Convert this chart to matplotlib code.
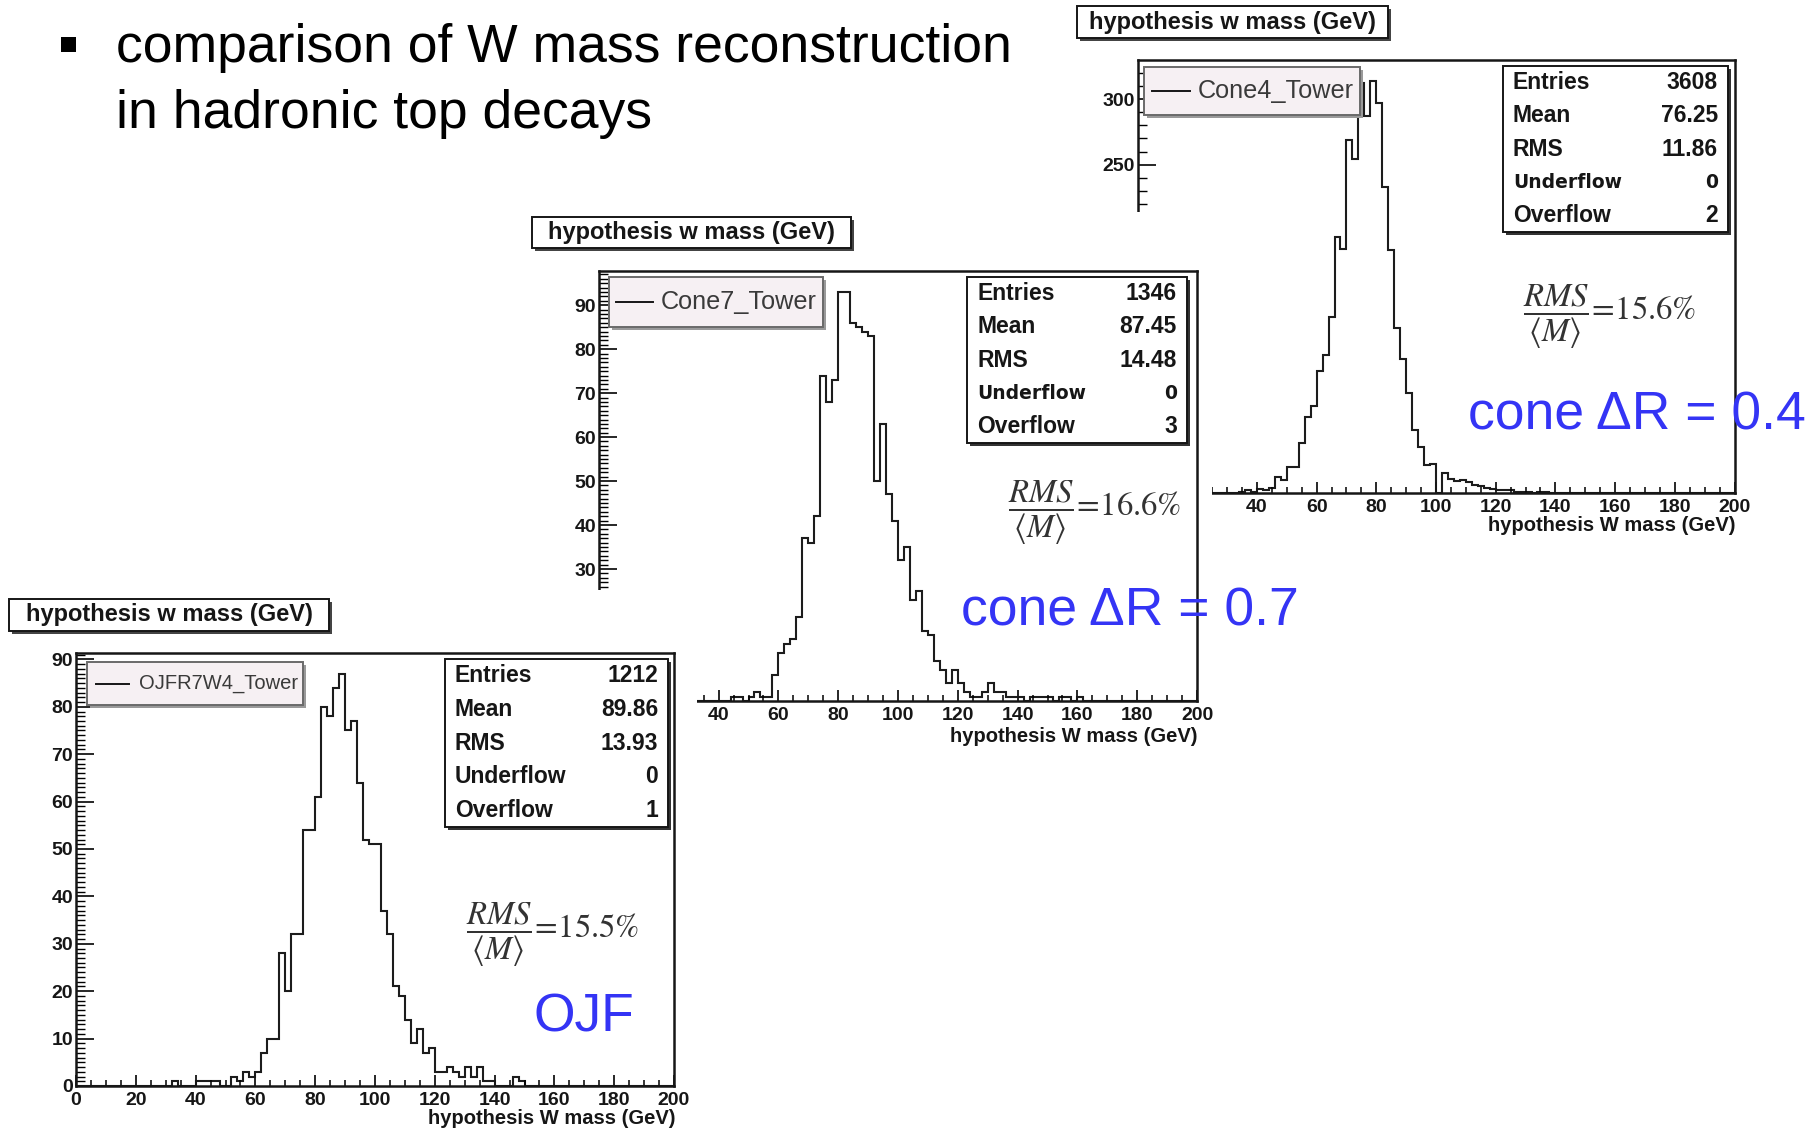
import numpy as np
import matplotlib.pyplot as plt
from matplotlib.patches import Rectangle
from matplotlib.lines import Line2D
from matplotlib.ticker import MultipleLocator

plt.rcParams['font.family'] = ['Liberation Sans', 'DejaVu Sans']
plt.rcParams['mathtext.fontset'] = 'stix'

W, H = 1812, 1130

# 2 GeV bins from 0 to 200 GeV
bin_edges = np.arange(0, 202, 2)
x_ticks = np.arange(0, 201, 20)

# counts, starting at the given bin low edge (GeV)
ojf_start = 30
ojf_counts = [0, 1, 0, 0, 0, 1, 1, 1, 1, 0, 0, 2, 1, 3, 2, 3, 7, 10, 10, 28,
              20, 32, 32, 54, 54, 61, 80, 78, 84, 87, 75, 77, 64, 52, 51, 51, 37, 32, 21, 19,
              14, 9, 12, 7, 8, 3, 3, 4, 3, 2, 4, 2, 4, 1, 1, 0, 0, 0, 2, 1]

cone7_start = 44
cone7_counts = [1, 1, 0, 1, 2, 1, 1, 6, 11, 13, 14, 19, 37, 36, 42, 74, 68, 73, 93, 93,
                86, 85, 84, 83, 50, 63, 47, 41, 32, 35, 23, 25, 16, 15, 9, 7, 4, 7, 4, 2,
                1, 1, 2, 4, 2, 2, 1, 1, 1, 0, 1, 1, 1, 1, 0, 1, 1, 0, 1]

cone4_start = 34
cone4_counts = [1, 2, 1, 3, 2, 4, 12, 10, 20, 20, 38, 58, 66, 93, 105, 134, 195, 186, 269, 254,
                312, 287, 314, 297, 233, 185, 126, 102, 76, 48, 35, 21, 22, 0, 15, 11, 9, 10, 8, 6,
                5, 4, 3, 2, 2, 2, 1, 1, 1, 0, 1, 1]

stat_names = ['Entries', 'Mean', 'RMS', 'Underflow', 'Overflow']
ojf_stats = ['1212', '89.86', '13.93', '0', '1']
cone7_stats = ['1346', '87.45', '14.48', '0', '3']
cone4_stats = ['3608', '76.25', '11.86', '0', '2']

panel_title = 'hypothesis w mass (GeV)'
x_title = 'hypothesis W mass (GeV)'
labels = ['OJFR7W4_Tower', 'Cone7_Tower', 'Cone4_Tower']
rms_ratio = ['15.5', '16.6', '15.6']
jet_names = ['OJF', 'cone \u0394R = 0.7', 'cone \u0394R = 0.4']
bullet_lines = ['comparison of W mass reconstruction', 'in hadronic top decays']

fig = plt.figure(figsize=(W / 100, H / 100), dpi=100)
INK = '#161616'


def fbox(x0, y0, x1, y1):
    return [x0 / W, 1 - y1 / H, (x1 - x0) / W, (y1 - y0) / H]


def rect(x0, y0, x1, y1, z, face='white', edge='none', lw=0):
    r = Rectangle((x0 / W, 1 - y1 / H), (x1 - x0) / W, (y1 - y0) / H,
                  facecolor=face, edgecolor=edge, linewidth=lw, zorder=z)
    fig.add_artist(r)


def pave(x0, y0, x1, y1, z, face='white', edge=INK, shadow='#333'):
    rect(x0 + 3, y0 + 3, x1 + 3, y1 + 3, z, face=shadow)
    rect(x0, y0, x1, y1, z + 0.01, face=face, edge=edge, lw=1.4)


def txt(x, y, s, z, **kw):
    return fig.text(x / W, 1 - y / H, s, zorder=z, **kw)


def draw_panel(z, frame, ytop, start, counts, ymaj, ymin, x_from=0, y_from=0):
    ax = fig.add_axes(fbox(*frame), zorder=z)
    vals = np.zeros(len(bin_edges) - 1)
    i0 = start // 2
    vals[i0:i0 + len(counts)] = counts
    ax.stairs(vals, bin_edges, color='#1c1c1c', lw=1.5)
    ax.set_xlim(0, 200)
    ax.set_ylim(0, ytop)
    ax.set_xticks(x_ticks)
    # labels hidden under the panel in front are left blank
    ax.set_xticklabels([str(v) if v >= x_from else '' for v in x_ticks])
    y_ticks = np.arange(0, ytop, ymaj)
    ax.set_yticks(y_ticks)
    ax.set_yticklabels([str(int(v)) if v >= y_from else '' for v in y_ticks])
    ax.xaxis.set_minor_locator(MultipleLocator(5))
    ax.yaxis.set_minor_locator(MultipleLocator(ymin))
    ax.tick_params(axis='x', which='major', direction='in', length=8, width=1.3,
                   labelsize=14, pad=4, colors=INK)
    ax.tick_params(axis='x', which='minor', direction='in', length=4, width=1.1)
    ax.tick_params(axis='y', which='major', direction='in', length=13, width=1.3,
                   labelsize=14, pad=2, colors=INK)
    ax.tick_params(axis='y', which='minor', direction='in', length=6.5, width=1.0)
    for lab in ax.get_xticklabels() + ax.get_yticklabels():
        lab.set_fontweight('bold')
    for sp in ax.spines.values():
        sp.set_linewidth(1.8)
        sp.set_color(INK)
    return ax


def legend(x0, y0, x1, y1, z, lx0, lx1, tx, label, fs):
    pave(x0, y0, x1, y1, z, face='#f6f0f3', edge='#6a6a6a', shadow='#9a9a9a')
    yc = (y0 + y1) / 2
    fig.add_artist(Line2D([lx0 / W, lx1 / W], [1 - yc / H, 1 - yc / H],
                          color=INK, lw=1.4, zorder=z + 0.1))
    txt(tx, yc, label, z + 0.1, fontsize=fs, color='#3a3a3a', va='center', ha='left')


def stats(x0, y0, x1, y1, z, values, small_under):
    pave(x0, y0, x1, y1, z)
    step = (y1 - y0) / 5
    for i, (name, v) in enumerate(zip(stat_names, values)):
        yc = y0 + (i + 0.5) * step
        if small_under and name == 'Underflow':
            kw = dict(fontsize=13.5, family='DejaVu Sans')
        else:
            kw = dict(fontsize=16.5)
        txt(x0 + 10, yc, name, z + 0.1, ha='left', va='center', fontweight='bold',
            color=INK, **kw)
        txt(x1 - 10, yc, v, z + 0.1, ha='right', va='center', fontweight='bold',
            color=INK, **kw)


def title_box(x0, y0, x1, y1, z):
    pave(x0, y0, x1, y1, z, shadow='#444')
    txt((x0 + x1) / 2, (y0 + y1) / 2, panel_title, z + 0.1, ha='center', va='center',
        fontsize=17, fontweight='bold', color=INK)


def formula(x, y, ratio):
    txt(x, y, r'$\dfrac{RMS}{\langle M\rangle}\!=\!' + ratio + r'\%$', 10,
        ha='left', va='center', fontsize=23.5, color='#333333')


# ---- Cone4 (back) ----
z = 1
draw_panel(z, (1137.5, 60, 1734.5, 493), 1.05 * max(cone4_counts),
           cone4_start, cone4_counts, 50, 10, x_from=40, y_from=250)
title_box(1077, 6, 1388, 38, z + 0.2)
legend(1144, 67, 1360, 115, z + 0.2, 1152, 1190, 1198, labels[2], 18.2)
stats(1503, 66, 1728, 232, z + 0.2, cone4_stats, True)
txt(1735, 526, x_title, z + 0.2, ha='right', va='center', fontsize=14.5,
    fontweight='bold', color=INK)

# ---- Cone7 (middle) ----
z = 3
rect(526, 212, 1212, 751, z - 0.5)
draw_panel(z, (599, 271.5, 1197, 701), 1.05 * max(cone7_counts),
           cone7_start, cone7_counts, 10, 1, x_from=40, y_from=30)
title_box(532, 217, 851, 248, z + 0.2)
legend(609, 277, 823, 327, z + 0.2, 616, 653, 661, labels[1], 18.2)
stats(967, 277, 1187, 443, z + 0.2, cone7_stats, True)
txt(1198, 737, x_title, z + 0.2, ha='right', va='center', fontsize=14.5,
    fontweight='bold', color=INK)

# ---- OJF (front) ----
z = 5
rect(0, 590, 697, 1130, z - 0.5)
draw_panel(z, (76, 653, 674, 1086), 1.05 * max(ojf_counts),
           ojf_start, ojf_counts, 10, 1)
title_box(9, 599, 329, 631, z + 0.2)
legend(87, 662, 303, 705, z + 0.2, 96, 129, 139, labels[0], 14.5)
stats(445, 659, 668, 827, z + 0.2, ojf_stats, False)
txt(676, 1119, x_title, z + 0.2, ha='right', va='center', fontsize=14.5,
    fontweight='bold', color=INK)

# ---- slide annotations ----
formula(466, 935, rms_ratio[0])
formula(1008, 513, rms_ratio[1])
formula(1523, 317, rms_ratio[2])

blue = '#3434f5'
txt(534, 1017, jet_names[0], 10, ha='left', va='center', fontsize=38.5, color=blue)
txt(961, 611, jet_names[1], 10, ha='left', va='center', fontsize=38.5, color=blue)
txt(1468, 415, jet_names[2], 10, ha='left', va='center', fontsize=38.5, color=blue)

rect(61, 37, 76, 52, 10, face='black')
txt(116, 48, bullet_lines[0], 10, ha='left', va='center', fontsize=38.5, color='black')
txt(116, 114, bullet_lines[1], 10, ha='left', va='center', fontsize=38.5, color='black')

fig.savefig('out.png', dpi=100, facecolor='white')
